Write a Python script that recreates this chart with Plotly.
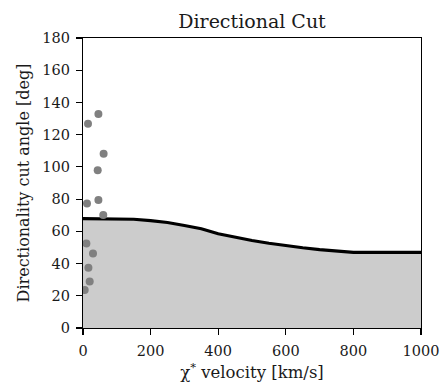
import plotly.graph_objects as go

# Cut curve
cut_velocity = [0, 100, 150, 200, 250, 300, 350, 400, 450, 500, 550, 600, 650, 700, 750, 800, 900, 1000]
cut_angle = [67.9, 67.9, 67.5, 66.6, 65.5, 63.6, 61.6, 58.5, 56.2, 54.3, 52.6, 51.1, 49.8, 48.7, 47.7, 47.0, 47.0, 47.0]

# Events
event_velocity = [45.6, 14.8, 61, 43.5, 11.8, 45.6, 60, 10, 29.6, 16, 19.8, 5]
event_angle = [132.9, 126.7, 108.2, 97.9, 77.3, 79.4, 70.1, 52.5, 46.3, 37.4, 28.8, 23.6]

title_text = "Directional Cut"
x_label = "χ<sup>*</sup> velocity [km/s]"
y_label = "Directionality cut angle [deg]"
x_ticks = [0, 200, 400, 600, 800, 1000]
y_ticks = [0, 20, 40, 60, 80, 100, 120, 140, 160, 180]

font_family = "DejaVu Serif"
text_color = "#1a1a1a"

fig = go.Figure()
fig.add_trace(go.Scatter(
    x=cut_velocity, y=cut_angle, mode="lines",
    line=dict(color="black", width=3.2),
    fill="tozeroy", fillcolor="#cccccc",
    showlegend=False, hoverinfo="skip",
))
fig.add_trace(go.Scatter(
    x=event_velocity, y=event_angle, mode="markers",
    marker=dict(color="#808080", size=8, line=dict(width=0)),
    showlegend=False,
))

axis_common = dict(
    showgrid=False, zeroline=False, automargin=False,
    showline=True, linecolor="black", linewidth=1.2, mirror=True,
    ticks="outside", ticklen=6, tickwidth=1.2, tickcolor="black",
    ticklabelstandoff=3,
    tickfont=dict(family=font_family, size=14.5, color=text_color),
)

fig.update_layout(
    width=442, height=389,
    margin=dict(l=83, r=21, t=38, b=61),
    paper_bgcolor="white", plot_bgcolor="white",
    font=dict(family=font_family, color=text_color),
    title=dict(text=title_text, x=0.5, xanchor="center", xref="paper",
               y=1 - 21 / 389, yref="container", yanchor="middle",
               font=dict(family=font_family, size=19, color=text_color)),
    xaxis=dict(range=[0, 1000], tickvals=x_ticks,
               title=dict(text=x_label, font=dict(family=font_family, size=16.5, color=text_color), standoff=8),
               **axis_common),
    yaxis=dict(range=[0, 180], tickvals=y_ticks,
               title=dict(text=y_label, font=dict(family=font_family, size=16, color=text_color), standoff=8),
               **axis_common),
)

fig.write_html("out.html", config={"displayModeBar": False, "staticPlot": True})

with open("out.html", "r", encoding="utf-8") as f:
    html = f.read()
html = html.replace("<head>", "<head><style>html,body{margin:0;padding:0;overflow:hidden;}</style>", 1)
with open("out.html", "w", encoding="utf-8") as f:
    f.write(html)
